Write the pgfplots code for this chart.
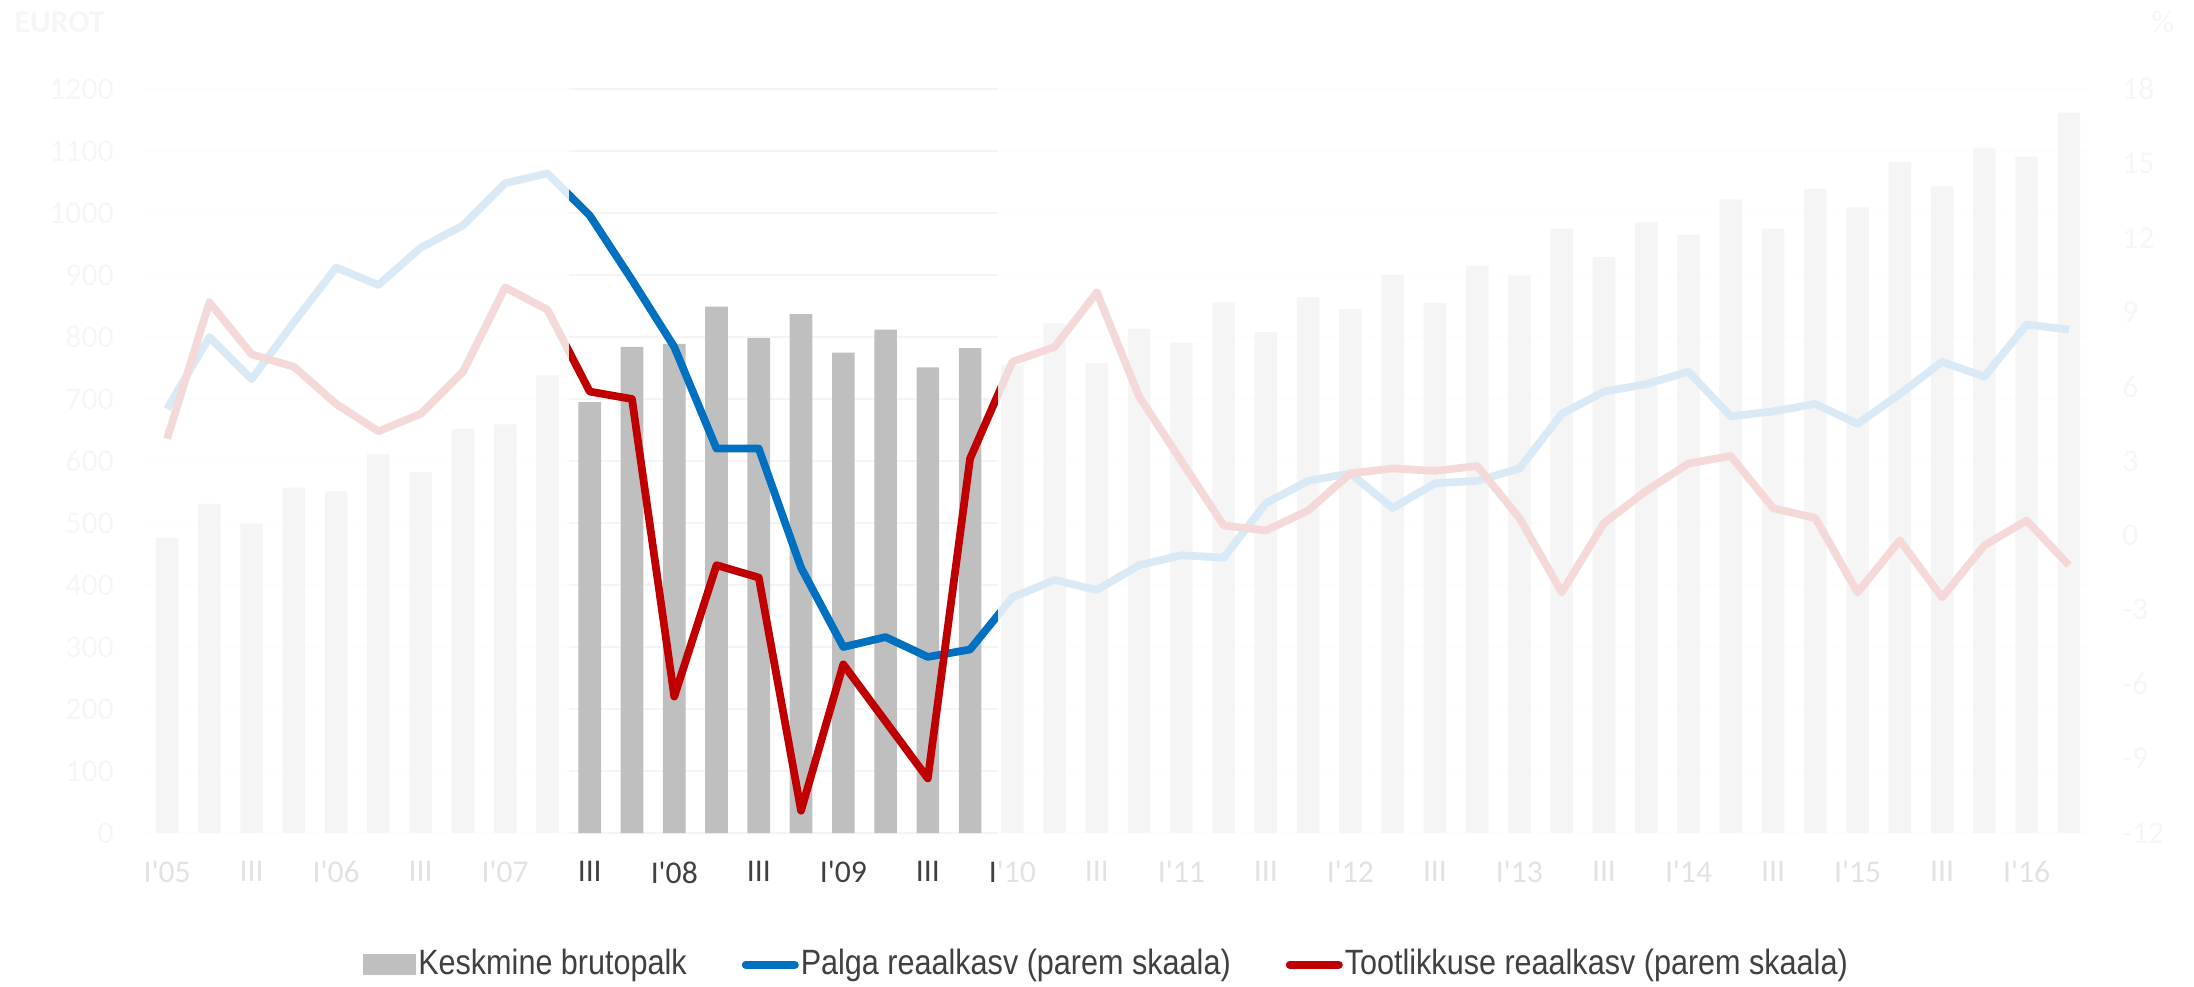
\documentclass[border=0pt]{standalone}
\usepackage{fontspec}
\setmainfont{Carlito}
\newfontfamily\legfont[FakeStretch=0.87]{Liberation Sans}
\usepackage{pgfplots}
\pgfplotsset{compat=1.18}
\usepackage{pgfplotstable}

\definecolor{barc}{HTML}{BFBFBF}
\definecolor{wagec}{HTML}{0070C0}
\definecolor{prodc}{HTML}{C00000}
\definecolor{gridc}{HTML}{F4F4F4}
\definecolor{xlabc}{HTML}{404040}
\definecolor{ylabc}{HTML}{C4C4C4}
\definecolor{legc}{HTML}{404040}

% quarters 2005 I ... 2016 II; bar in euros, wage and prod in %
\pgfplotstableread{
q bar wage prod
0  476  5.1   3.9
1  531  8.0   9.4
2  499  6.3   7.3
3  557  8.6   6.8
4  551 10.8   5.3
5  611 10.1   4.2
6  582 11.6   4.9
7  652 12.5   6.6
8  659 14.2  10.0
9  738 14.6   9.1
10 695 12.9   5.8
11 784 10.3   5.5
12 789  7.6  -6.5
13 849  3.5  -1.2
14 798  3.5  -1.7
15 837 -1.3 -11.1
16 775 -4.5  -5.2
17 812 -4.1  -7.5
18 751 -4.9  -9.8
19 782 -4.6   3.1
20 755 -2.5   7.0
21 822 -1.8   7.6
22 758 -2.2   9.8
23 813 -1.2   5.6
24 791 -0.8   3.0
25 856 -0.9   0.4
26 808  1.3   0.2
27 864  2.2   1.0
28 845  2.5   2.5
29 900  1.1   2.7
30 855  2.1   2.6
31 915  2.2   2.8
32 899  2.7   0.7
33 975  4.9  -2.3
34 929  5.8   0.5
35 985  6.1   1.8
36 965  6.6   2.9
37 1022 4.8   3.2
38 975  5.0   1.1
39 1039 5.3   0.7
40 1009 4.5  -2.3
41 1082 5.7  -0.2
42 1043 7.0  -2.5
43 1105 6.4  -0.4
44 1091 8.5   0.6
45 1162 8.3  -1.2
}\datatable

\newcommand\qt{\textquotesingle}

\begin{document}
\begin{tikzpicture}
\useasboundingbox (0,0) rectangle (219.4mm,98.6mm);
\coordinate (top) at (0,98.6mm);
\coordinate (bot) at (0,6.6mm);

\pgfplotsset{
  common/.style={
    at={(14.6mm,15.3mm)}, anchor=south west,
    width=194.4mm, height=74.4mm, scale only axis,
    xmin=-0.5, xmax=45.5,
    axis line style={draw=none}, major tick length=0pt,
    ticklabel style={font=\fontsize{9}{10}\selectfont},
    /pgf/number format/assume math mode=true,
    /pgf/number format/1000 sep={},
    clip=false,
  }
}

\begin{axis}[common,
  ymin=0, ymax=1200, ytick={0,100,...,1200},
  ymajorgrids, grid style={gridc, line width=0.6pt},
  yticklabel style={text=ylabc, xshift=-2mm},
  xtick={0,2,...,44},
  xticklabels={I\qt05,III,I\qt06,III,I\qt07,III,I\qt08,III,I\qt09,III,I\qt10,III,I\qt11,III,I\qt12,III,I\qt13,III,I\qt14,III,I\qt15,III,I\qt16},
  xticklabel style={text=xlabc, yshift=-1.6mm},
]
\addplot[ybar, bar width=2.26mm, fill=barc, draw=none] table[x=q,y=bar]{\datatable};
\coordinate (L) at (9.5,0);
\coordinate (R) at (19.65,0);
\end{axis}

\begin{axis}[common,
  ymin=-12, ymax=18, ytick={-12,-9,...,18},
  axis x line=none, axis y line*=right,
  yticklabel style={text=ylabc, xshift=2mm},
  legend style={at={(0.494,-0.177)}, anchor=center, draw=none, fill=none,
    legend columns=3, font=\legfont\fontsize{10}{12}\selectfont, text=legc,
    inner sep=0pt, nodes={inner xsep=0.2mm, inner ysep=0.5mm},
    /tikz/every even column/.append style={column sep=5.3mm}},
  legend cell align=left,
]
\addlegendimage{legend image code/.code={\fill[barc] (0,-1mm) rectangle (5.2mm,1mm);}}
\addlegendentry{Keskmine brutopalk}
\addplot[wagec, line width=2.2pt, line join=round, no marks,
  legend image code/.code={\draw[wagec, line width=0.8mm, line cap=round] (0.4mm,0) -- (5.3mm,0);}]
  table[x=q,y=wage]{\datatable};
\addlegendentry{Palga reaalkasv (parem skaala)}
\addplot[prodc, line width=2.2pt, line join=round, no marks,
  legend image code/.code={\draw[prodc, line width=0.8mm, line cap=round] (0.4mm,0) -- (5.3mm,0);}]
  table[x=q,y=prod]{\datatable};
\addlegendentry{Tootlikkuse reaalkasv (parem skaala)}
\end{axis}

\node[anchor=west, inner sep=0, text=ylabc, font=\bfseries\fontsize{9}{10}\selectfont] at (1.4mm,96.4mm) {EUROT};
\node[anchor=west, inner sep=0, text=ylabc, font=\fontsize{9}{10}\selectfont] at (215.1mm,96.4mm) {\%};

% fade everything outside the highlighted period
\fill[white, fill opacity=0.85] (bot) rectangle (L |- top);
\fill[white, fill opacity=0.85] (R |- bot) rectangle (219.4mm,98.6mm);
\end{tikzpicture}
\end{document}
